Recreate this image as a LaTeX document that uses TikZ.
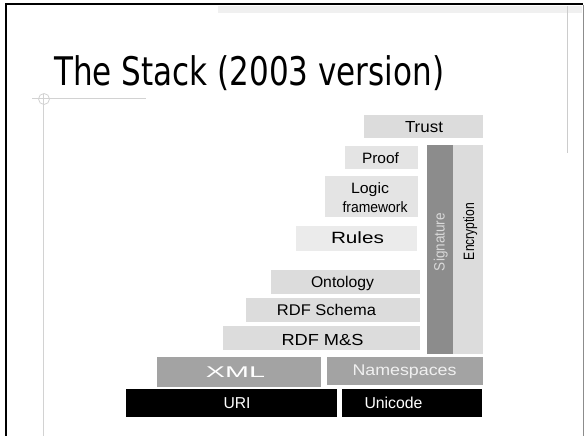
\documentclass[tikz,border=0pt]{standalone}
\usepackage{fontspec}
\usepackage{graphicx}
\setmainfont{Liberation Sans}
\newfontfamily\titlefont{DejaVu Sans}
\definecolor{layA}{HTML}{DCDCDC}
\definecolor{layB}{HTML}{E4E4E4}
\definecolor{layC}{HTML}{EBEBEB}
\definecolor{sigfill}{HTML}{8C8C8C}
\definecolor{xmlfill}{HTML}{A3A3A3}
\definecolor{deco}{HTML}{D2D2D2}
\definecolor{strip}{HTML}{F0F0F0}
\newcommand\fitw[2]{\resizebox{#1pt}{\height}{#2}}
\newcommand\layerbox[6]{\node[layer, fill=#6, minimum width={#4pt-#2pt}, minimum height={#5pt-#3pt}, anchor=north west] (#1) at (#2,#3) {};}
\tikzset{
  layer/.style={inner sep=0pt, outer sep=0pt, draw=none},
  lbl/.style={inner sep=0pt, outer sep=0pt, anchor=base, font=\fontsize{16}{19}\selectfont},
}
\begin{document}
\begin{tikzpicture}[x=1pt,y=-1pt]
\useasboundingbox (0,0) rectangle (584,436);
% slide frame and decorations
\fill[strip] (218,6) rectangle (582,13);
\draw[black!20, line width=0.8pt] (567,6) -- (567,153);
\draw[line width=2pt, black] (6,436) -- (6,4.5) -- (583,4.5);
\draw[black!45, line width=1pt] (583,5) -- (583,436);
\draw[deco, line width=1pt] (32,99) -- (146,99);
\draw[deco, line width=1pt] (43,94) -- (43,436);
\draw[deco, line width=0.8pt] (44,99) circle (5.5);
% title
\node[inner sep=0pt, anchor=base west] (title) at (54,86)
  {\fitw{390}{\titlefont\fontsize{39.4}{46}\selectfont The Stack (2003 version)}};
% layers
\layerbox{trust}{364}{115}{483}{138}{layA}
\layerbox{proof}{345}{146}{418}{169}{layB}
\layerbox{logic}{325}{176}{418}{217}{layB}
\layerbox{rules}{296}{226}{417}{251}{layC}
\layerbox{sig}{427}{145}{453}{354}{sigfill}
\layerbox{enc}{453}{145}{483}{354}{layA}
\layerbox{onto}{271}{270}{420}{294}{layA}
\layerbox{rdfs}{246}{298}{420}{322}{layA}
\layerbox{rdfms}{223}{326}{420}{350}{layA}
\layerbox{xml}{157}{357}{321}{387}{xmlfill}
\layerbox{ns}{327}{357}{483}{385}{xmlfill}
\layerbox{uri}{126}{389}{337}{417}{black}
\layerbox{uni}{342}{389}{482}{417}{black}
% labels
\node[lbl] (trustt) at (424,132.7) {\fitw{38}{Trust}};
\node[lbl, font=\fontsize{15}{18}\selectfont] (prooft) at (380.5,163.3) {\fitw{37}{Proof}};
\node[lbl, font=\fontsize{15}{18}\selectfont] (logict) at (370,193.3) {\fitw{38}{Logic}};
\node[lbl, font=\fontsize{15}{18}\selectfont] (frameworkt) at (375,212.7) {\fitw{65}{framework}};
\node[lbl, font=\fontsize{16.3}{19}\selectfont] (rulest) at (357.5,243.3) {\fitw{53}{Rules}};
\node[lbl, font=\fontsize{15.5}{18}\selectfont] (ontot) at (342.5,287.3) {\fitw{63}{Ontology}};
\node[lbl, font=\fontsize{15.5}{18}\selectfont] (rdfst) at (326.5,315) {\fitw{99}{RDF Schema}};
\node[lbl] (rdfmst) at (322.5,345) {\fitw{82}{RDF M\&S}};
\node[lbl, text=white, font=\fontsize{15.5}{18}\selectfont] (xmlt) at (235.5,377) {\fitw{59}{XML}};
\node[lbl, text=white!94!black, font=\fontsize{15.5}{18}\selectfont] (nst) at (404.5,375) {\fitw{104}{Namespaces}};
\node[lbl, text=white, font=\fontsize{15.8}{18}\selectfont] (urit) at (237,408) {\fitw{27}{URI}};
\node[lbl, text=white, font=\fontsize{15.8}{18}\selectfont] (unit) at (393.5,408) {\fitw{58}{Unicode}};
\node[lbl, rotate=90, text=white!85!black, font=\fontsize{15}{18}\selectfont] (sigt) at (444.7,242) {\fitw{58}{Signature}};
\node[lbl, rotate=90, font=\fontsize{15}{18}\selectfont] (enct) at (474.2,231.5) {\fitw{57}{Encryption}};
\end{tikzpicture}
\end{document}
